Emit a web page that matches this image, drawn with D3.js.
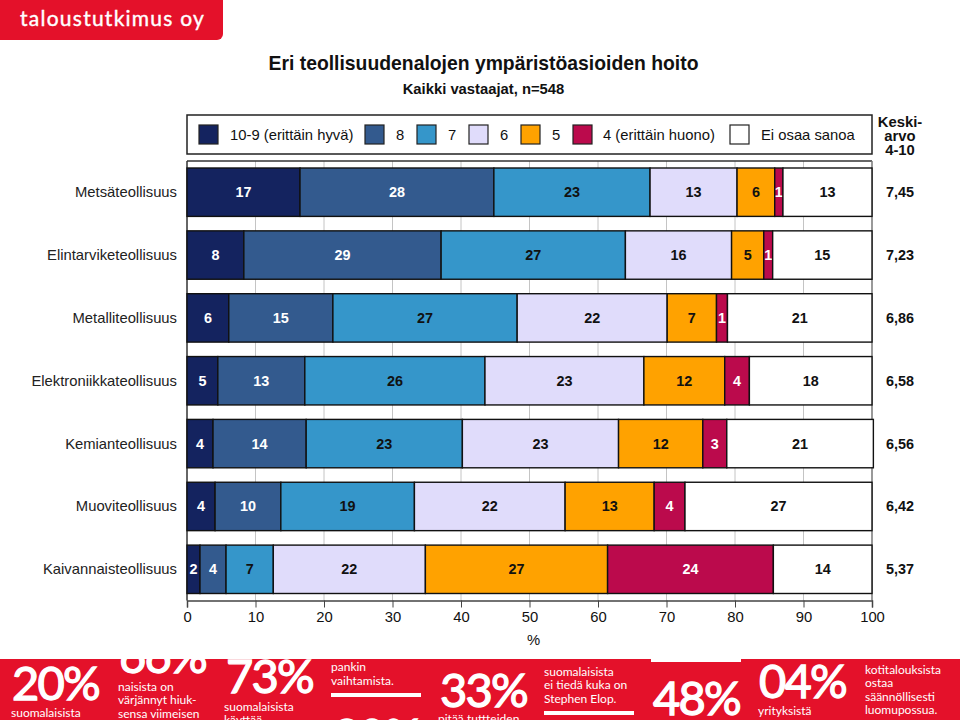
<!DOCTYPE html>
<html>
<head>
<meta charset="utf-8">
<script src="https://cdn.jsdelivr.net/npm/d3@7"></script>
<style>
  html, body { margin: 0; padding: 0; background: #fff; }
  text { font-family: "Liberation Sans", Arial, sans-serif; }
  .promo text { font-family: Lato, sans-serif; fill: #fff; }
</style>
</head>
<body>
<div id="chart"></div>
<script>
var categories = ["Metsäteollisuus", "Elintarviketeollisuus", "Metalliteollisuus", "Elektroniikkateollisuus", "Kemianteollisuus", "Muoviteollisuus", "Kaivannaisteollisuus"]
var legendLabels = ["10-9 (erittäin hyvä)", "8", "7", "6", "5", "4 (erittäin huono)", "Ei osaa sanoa"]
var colors = ["#14235f", "#335a8e", "#3596ca", "#e0dcfb", "#ffa200", "#bb0a4c", "#ffffff"]
var textColors = ["#fff", "#fff", "#111", "#111", "#111", "#fff", "#111"]

// widths as measured from the bars, the printed labels are rounded
var values = [
  [16.5, 28.3, 22.8, 12.7, 5.5, 1.2, 13.0],
  [8.3, 28.8, 26.9, 15.5, 4.7, 1.3, 14.5],
  [6.1, 15.2, 26.9, 21.9, 7.2, 1.6, 21.1],
  [4.5, 12.7, 26.3, 23.2, 11.8, 3.6, 17.9],
  [3.8, 13.6, 22.8, 22.8, 12.3, 3.5, 21.4],
  [4.1, 9.6, 19.5, 22.0, 13.0, 4.5, 27.3],
  [1.9, 3.8, 6.9, 22.2, 26.6, 24.2, 14.4]
]
var labels = [
  [17, 28, 23, 13, 6, 1, 13],
  [8, 29, 27, 16, 5, 1, 15],
  [6, 15, 27, 22, 7, 1, 21],
  [5, 13, 26, 23, 12, 4, 18],
  [4, 14, 23, 23, 12, 3, 21],
  [4, 10, 19, 22, 13, 4, 27],
  [2, 4, 7, 22, 27, 24, 14]
]
var means = ["7,45", "7,23", "6,86", "6,58", "6,56", "6,42", "5,37"]
var ticks = [0, 10, 20, 30, 40, 50, 60, 70, 80, 90, 100]

var svg = d3.select("#chart").append("svg")
  .attr("width", 960)
  .attr("height", 720)
  .style("display", "block")

var xScale = d3.scaleLinear().domain([0, 100]).range([187, 872])
var yScale = d3.scaleBand().domain(categories).range([168, 593.5]).paddingInner(0.23)
var fontSize = "14.8px"
var frameTop = 161, frameBottom = 600.5

// logo
svg.append("path")
  .attr("d", "M0,0H223V34a6,6 0 0 1 -6,6H0Z")
  .attr("fill", "#e4112a")
svg.append("text")
  .attr("x", 20).attr("y", 26)
  .attr("fill", "#fff")
  .attr("stroke", "#fff").attr("stroke-width", 0.4)
  .style("font-family", "Lato")
  .style("font-size", "21px")
  .style("letter-spacing", "1.25px")
  .text("taloustutkimus oy")

// titles
svg.append("text")
  .attr("x", 483.5).attr("y", 70)
  .attr("text-anchor", "middle")
  .style("font-size", "19.35px").style("font-weight", "bold")
  .attr("fill", "#111")
  .text("Eri teollisuudenalojen ympäristöasioiden hoito")
svg.append("text")
  .attr("x", 483.5).attr("y", 94)
  .attr("text-anchor", "middle")
  .style("font-size", fontSize).style("font-weight", "bold")
  .attr("fill", "#111")
  .text("Kaikki vastaajat, n=548")

// legend
var legend = svg.append("g")
legend.append("rect")
  .attr("x", 187).attr("y", 115).attr("width", 685).attr("height", 39)
  .attr("fill", "#fff").attr("stroke", "#222").attr("stroke-width", 1.5)
var legendSwatch = [199, 365, 417, 469, 521, 573, 730]
var legendText = [230, 396, 448, 500, 552, 603, 761]
legendLabels.forEach((d, i) => {
  legend.append("rect")
    .attr("x", legendSwatch[i]).attr("y", 125).attr("width", 19).attr("height", 19)
    .attr("fill", colors[i]).attr("stroke", "#222").attr("stroke-width", 1.2)
  legend.append("text")
    .attr("x", legendText[i]).attr("y", 139.5)
    .style("font-size", fontSize).attr("fill", "#111")
    .text(d)
})

// mean header
var header = ["Keski-", "arvo", "4-10"]
header.forEach((d, i) => {
  svg.append("text")
    .attr("x", 900).attr("y", 127 + i * 14)
    .attr("text-anchor", "middle")
    .style("font-size", fontSize).style("font-weight", "bold")
    .attr("fill", "#111")
    .text(d)
})

// plot frame + grid
var plot = svg.append("g")
plot.selectAll("line.grid")
  .data(ticks.slice(1, -1))
  .enter().append("line")
  .attr("class", "grid")
  .attr("x1", d => xScale(d)).attr("x2", d => xScale(d))
  .attr("y1", frameTop).attr("y2", frameBottom)
  .attr("stroke", "#c4c4c4").attr("stroke-width", 1)
plot.append("line")
  .attr("x1", 187).attr("x2", 872).attr("y1", frameTop).attr("y2", frameTop)
  .attr("stroke", "#333").attr("stroke-width", 1.5)
plot.append("line")
  .attr("x1", 187).attr("x2", 187).attr("y1", frameTop).attr("y2", frameBottom)
  .attr("stroke", "#333").attr("stroke-width", 1.5)
plot.append("line")
  .attr("x1", 872).attr("x2", 872).attr("y1", frameTop).attr("y2", frameBottom)
  .attr("stroke", "#777").attr("stroke-width", 1.5)

// stacked bars
var rows = plot.selectAll("g.row")
  .data(categories)
  .enter().append("g")
  .attr("class", "row")

rows.each(function(cat, r) {
  var g = d3.select(this)
  var mid = yScale(cat) + yScale.bandwidth() / 2
  var cum = 0
  values[r].forEach((v, i) => {
    var x0 = xScale(cum), x1 = xScale(cum + v)
    cum += v
    g.append("rect")
      .attr("x", x0).attr("y", yScale(cat))
      .attr("width", x1 - x0).attr("height", yScale.bandwidth())
      .attr("fill", colors[i]).attr("stroke", "#111").attr("stroke-width", 1.4)
    g.append("text")
      .attr("x", (x0 + x1) / 2).attr("y", mid + 5)
      .attr("text-anchor", "middle")
      .attr("fill", textColors[i])
      .style("font-size", "14.4px")
      .style("font-weight", "bold")
      .text(labels[r][i])
  })
  g.append("text")
    .attr("x", 177).attr("y", mid + 5)
    .attr("text-anchor", "end")
    .attr("fill", "#222")
    .style("font-size", fontSize)
    .text(cat)
  g.append("text")
    .attr("x", 900).attr("y", mid + 5)
    .attr("text-anchor", "middle")
    .attr("fill", "#111")
    .style("font-size", "14.4px").style("font-weight", "bold")
    .text(means[r])
})

// x axis
var axis = svg.append("g")
  .attr("transform", "translate(0," + frameBottom + ")")
  .call(d3.axisBottom(xScale).tickValues(ticks).tickSize(7).tickSizeOuter(7).tickPadding(4))
axis.selectAll("text").style("font-size", fontSize).attr("fill", "#111")
axis.selectAll("line").attr("stroke", "#444")
axis.select(".domain").attr("stroke", "#444").attr("stroke-width", 1.5)
svg.append("text")
  .attr("x", 533.5).attr("y", 645)
  .attr("text-anchor", "middle")
  .style("font-size", fontSize).attr("fill", "#111")
  .text("%")

// promo strip under the chart, cropped by the page edge
var defs = svg.append("defs")
defs.append("clipPath").attr("id", "stripClip")
  .append("rect").attr("x", 0).attr("y", 659).attr("width", 960).attr("height", 61)
var promo = svg.append("g").attr("class", "promo").attr("clip-path", "url(#stripClip)")
promo.append("rect").attr("x", 0).attr("y", 659).attr("width", 960).attr("height", 61).attr("fill", "#e4112a")

var bigTexts = [["20%", 12, 700], ["66%", 119, 673], ["73%", 226, 693], ["33%", 440, 707], ["48%", 653, 715], ["04%", 759, 698], ["20%", 333, 752]]
bigTexts.forEach(d => {
  promo.append("text").attr("x", d[1]).attr("y", d[2])
    .attr("stroke", "#fff").attr("stroke-width", 1.3)
    .style("font-size", "47px").style("letter-spacing", "-1.8px")
    .text(d[0])
})
var smallTexts = [
  ["suomalaisista", 11, 717], ["naisista on", 118, 691], ["värjännyt hiuk-", 118, 704], ["sensa viimeisen", 118, 718],
  ["suomalaisista", 224, 711], ["käyttää", 224, 724], ["pankin", 331, 671], ["vaihtamista.", 331, 685],
  ["pitää tuttteiden", 438, 723], ["suomalaisista", 544, 676], ["ei tiedä kuka on", 544, 689], ["Stephen Elop.", 544, 703],
  ["yrityksistä", 758, 715], ["kotitalouksista", 865, 674], ["ostaa", 865, 687], ["säännöllisesti", 865, 701], ["luomupossua.", 865, 714]
]
smallTexts.forEach(d => {
  promo.append("text").attr("x", d[1]).attr("y", d[2])
    .style("font-size", "12px")
    .text(d[0])
})
var rules = [[331, 421, 695], [544, 634, 713]]
rules.forEach(d => {
  promo.append("line").attr("x1", d[0]).attr("x2", d[1]).attr("y1", d[2]).attr("y2", d[2])
    .attr("stroke", "#fff").attr("stroke-width", 4)
})
// white tab left from the page above
svg.append("rect").attr("x", 651).attr("y", 659).attr("width", 90).attr("height", 3).attr("fill", "#fff")
</script>
</body>
</html>
